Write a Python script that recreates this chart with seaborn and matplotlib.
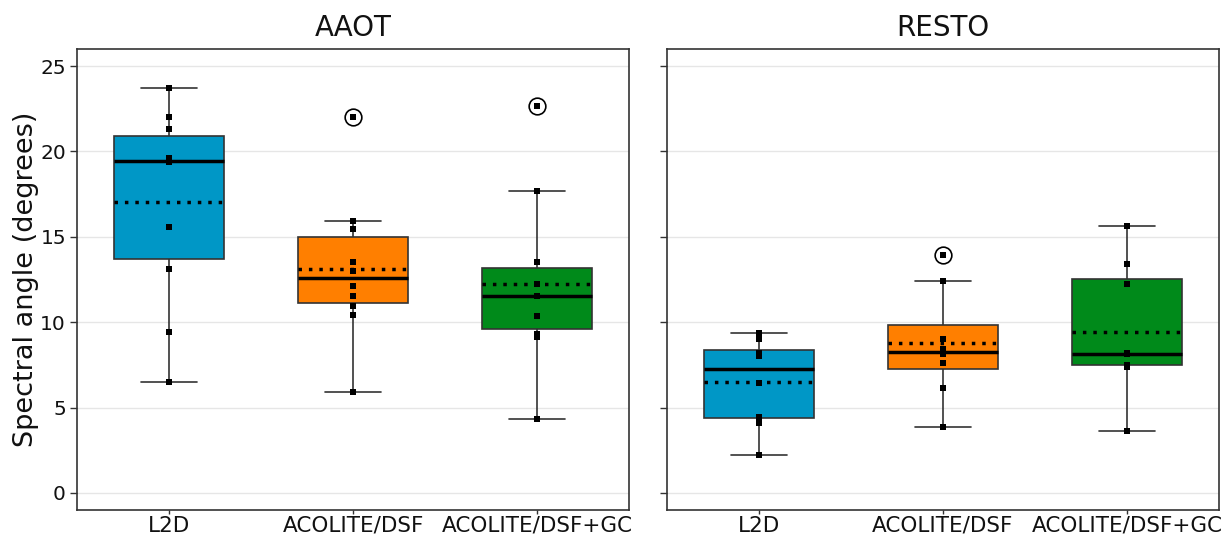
import matplotlib
matplotlib.use("Agg")
import matplotlib.pyplot as plt
import seaborn as sns
import pandas as pd

methods = ["L2D", "ACOLITE/DSF", "ACOLITE/DSF+GC"]
sites = ["AAOT", "RESTO"]
colors = ["#0097C6", "#FF7F00", "#008A1A"]

aaot_l2d = [23.7, 22.0, 21.3, 19.6, 19.5, 19.4, 15.6, 13.1, 9.4, 6.5]
aaot_dsf = [22.0, 15.94, 15.46, 13.54, 13.0, 12.14, 11.55, 10.97, 10.42, 5.93]
aaot_dsfgc = [22.66, 17.68, 13.52, 12.22, 11.55, 11.55, 10.38, 9.31, 9.12, 4.33]

resto_l2d = [9.39, 9.1, 9.0, 8.18, 8.18, 8.02, 6.46, 4.47, 4.47, 4.12, 4.12, 2.25]
resto_dsf = [13.95, 12.43, 12.43, 9.0, 9.0, 8.41, 8.14, 8.14, 7.63, 6.15, 6.15, 3.85]
resto_dsfgc = [15.63, 13.43, 13.43, 12.24, 8.2, 8.18, 8.15, 8.15, 7.49, 7.42, 7.4, 3.63]

series = {
    "AAOT": [aaot_l2d, aaot_dsf, aaot_dsfgc],
    "RESTO": [resto_l2d, resto_dsf, resto_dsfgc],
}

rows = []
for site in sites:
    for m, vals in zip(methods, series[site]):
        for v in vals:
            rows.append({"site": site, "method": m, "value": v})
df = pd.DataFrame(rows)

sns.set_theme(style="white")
plt.rcParams["font.family"] = ["DejaVu Sans"]

fig = plt.figure(figsize=(12.25, 5.36), dpi=100)
ax1 = fig.add_axes([0.0629, 0.0485, 0.4506, 0.8601])
ax2 = fig.add_axes([0.5445, 0.0485, 0.4506, 0.8601], sharey=ax1)

edge = "#333333"
txt = "#111111"
for ax, site in zip([ax1, ax2], sites):
    d = df[df.site == site]
    sns.boxplot(
        data=d, x="method", y="value", hue="method", order=methods,
        hue_order=methods, palette=colors, saturation=1, width=0.6, legend=False,
        linecolor=edge, linewidth=1.2, ax=ax,
        showmeans=True, meanline=True,
        meanprops={"color": "black", "linestyle": (0, (1, 2)), "linewidth": 2.5},
        medianprops={"color": "black", "linewidth": 2.5},
        flierprops={"marker": "o", "markersize": 12, "markerfacecolor": "none",
                    "markeredgecolor": "black", "markeredgewidth": 1.2},
        zorder=2,
    )
    sns.stripplot(
        data=d, x="method", y="value", order=methods, jitter=False,
        marker="s", size=4, color="black", ax=ax, zorder=5,
    )
    ax.set_title(site, fontsize=20, pad=9, color=txt)
    ax.set_xlabel("")
    ax.set_xlim(-0.5, 2.5)
    ax.set_ylim(-1, 26)
    ax.set_yticks([0, 5, 10, 15, 20, 25])
    ax.yaxis.grid(True, color="#e6e6e6", linewidth=1, zorder=0)
    ax.set_axisbelow(True)
    for s in ax.spines.values():
        s.set_color(edge)
        s.set_linewidth(1.2)
    ax.tick_params(axis="y", labelsize=14.5, length=5, width=1, color=edge,
                   left=True, labelcolor=txt, pad=3)
    ax.tick_params(axis="x", labelsize=15.5, length=3, width=1, color=edge,
                   bottom=True, labelcolor=txt, pad=1)

ax1.set_ylabel("Spectral angle (degrees)", fontsize=19.5, color=txt, labelpad=1)
ax2.set_ylabel("")
ax2.tick_params(axis="y", labelleft=False)

fig.savefig("out.png", dpi=100)
